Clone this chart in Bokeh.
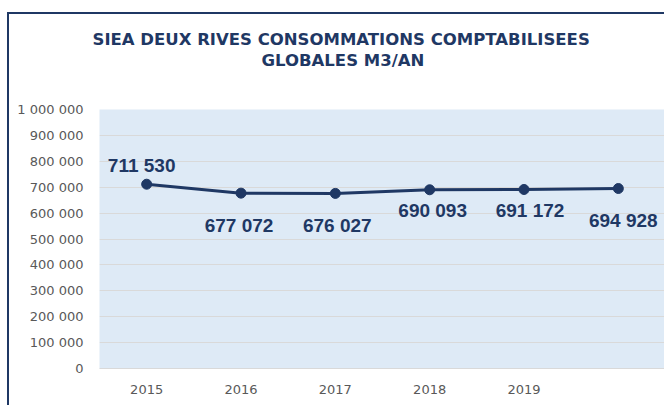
from bokeh.plotting import figure
from bokeh.models import ColumnDataSource, Range1d, FixedTicker, LabelSet, Title
from bokeh.core.properties import value
from bokeh.embed import file_html
from bokeh.resources import INLINE

# ---- data ----
categories = ["2015", "2016", "2017", "2018", "2019", ""]
consommations = [711530, 677072, 676027, 690093, 691172, 694928]
value_labels = ["711 530", "677 072", "676 027", "690 093", "691 172", "694 928"]
y_ticks = [0, 100000, 200000, 300000, 400000, 500000, 600000, 700000, 800000, 900000, 1000000]
y_tick_labels = ["0", "100 000", "200 000", "300 000", "400 000", "500 000",
                 "600 000", "700 000", "800 000", "900 000", "1 000 000"]
title_lines = ["SIEA DEUX RIVES CONSOMMATIONS COMPTABILISEES", "GLOBALES M3/AN"]

# ---- label / title placement (style) ----
label_dx = [-5, -2, 2, 3, 6, 5]
label_dy = [19, -32, -32, -21, -21, -32]
title_offsets = [-7, 162]

NAVY = "#1F3864"
GRID = "#D9D9D9"
GRAY = "#595959"

x_pos = list(range(len(categories)))
src = ColumnDataSource(dict(x=x_pos, y=consommations, lab=value_labels,
                            dx=label_dx, dy=label_dy))

p = figure(width=657, height=393,
           x_range=Range1d(-0.5, len(categories) - 0.5),
           y_range=Range1d(y_ticks[0], y_ticks[-1]),
           output_backend="svg", toolbar_location=None,
           min_border_left=90, min_border_right=1,
           min_border_top=95, min_border_bottom=39,
           background_fill_color="#DEEAF6", border_fill_color="white",
           outline_line_color=None,
           styles={"margin-left": "7px", "margin-top": "12px",
                   "border-left": "2px solid " + NAVY,
                   "border-top": "2px solid " + NAVY})
p.title.visible = False

# y axis
p.yaxis.ticker = FixedTicker(ticks=y_ticks)
p.yaxis.major_label_overrides = dict(zip(y_ticks, y_tick_labels))
p.yaxis.axis_line_color = None
p.yaxis.major_tick_line_color = None
p.yaxis.minor_tick_line_color = None
p.yaxis.major_tick_out = 0
p.yaxis.major_label_standoff = 16
p.yaxis.major_label_text_font = "DejaVu Sans"
p.yaxis.major_label_text_font_size = "13px"
p.yaxis.major_label_text_color = GRAY
p.ygrid.ticker = FixedTicker(ticks=y_ticks)
p.ygrid.grid_line_color = GRID

# x axis
p.xaxis.ticker = FixedTicker(ticks=x_pos)
p.xaxis.major_label_overrides = dict(zip(x_pos, categories))
p.xaxis.axis_line_color = GRID
p.xaxis.major_tick_line_color = None
p.xaxis.minor_tick_line_color = None
p.xaxis.major_tick_out = 0
p.xaxis.major_label_standoff = 16
p.xaxis.major_label_text_font = "DejaVu Sans"
p.xaxis.major_label_text_font_size = "13px"
p.xaxis.major_label_text_color = GRAY
p.xgrid.visible = False

# series
p.line("x", "y", source=src, line_width=3, line_color=NAVY)
p.scatter("x", "y", source=src, size=10, fill_color=NAVY, line_color=NAVY)

labels = LabelSet(x="x", y="y", text="lab", source=src,
                  x_offset="dx", y_offset="dy",
                  text_align="center", text_baseline="middle",
                  text_font=value("Liberation Sans"), text_font_style="bold",
                  text_font_size="19px", text_color=NAVY)
p.add_layout(labels)

# spacer between the title and the plot area
p.add_layout(Title(text=" ", standoff=0, text_font_size="34px"), "above")

# title (two lines, second added first so it sits closer to the plot)
for i in reversed(range(len(title_lines))):
    p.add_layout(Title(text=title_lines[i], align="left",
                       offset=title_offsets[i], standoff=0,
                       text_font="DejaVu Sans", text_font_style="bold",
                       text_font_size="16.5px", text_color=NAVY), "above")

open("out.html", "w").write(file_html(p, INLINE))
